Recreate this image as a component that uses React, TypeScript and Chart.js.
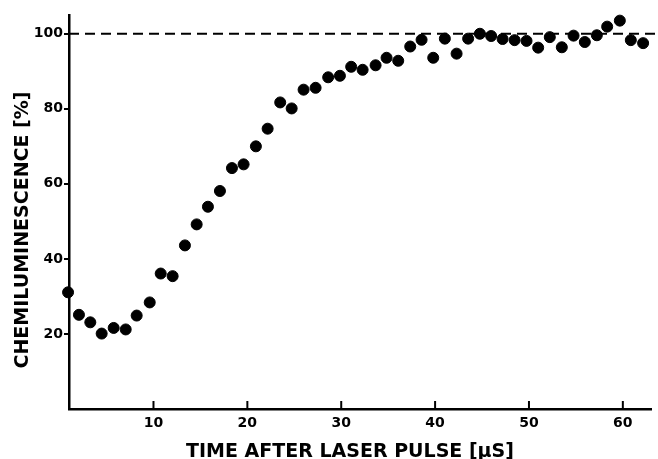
import React, { useEffect, useRef } from "react";
import { Chart, registerables } from "chart.js";

Chart.register(...registerables);

const timeUs = [0.9, 2.06, 3.27, 4.48, 5.76, 7.04, 8.21, 9.6, 10.77, 12.04, 13.35, 14.6, 15.8, 17.08, 18.36, 19.6, 20.91, 22.16, 23.5, 24.72, 25.99, 27.27, 28.61, 29.86, 31.06, 32.28, 33.66, 34.83, 36.07, 37.35, 38.56, 39.8, 41.04, 42.29, 43.52, 44.77, 45.97, 47.19, 48.47, 49.74, 50.98, 52.22, 53.5, 54.75, 55.95, 57.23, 58.33, 59.68, 60.85, 62.16];
const chemiPct = [31.1, 25.1, 23.1, 20.1, 21.6, 21.2, 24.9, 28.4, 36.1, 35.4, 43.6, 49.2, 53.9, 58.1, 64.2, 65.2, 70.0, 74.7, 81.7, 80.1, 85.1, 85.6, 88.4, 88.8, 91.2, 90.4, 91.6, 93.6, 92.8, 96.6, 98.4, 93.6, 98.7, 94.7, 98.7, 100.0, 99.4, 98.6, 98.3, 98.1, 96.3, 99.1, 96.4, 99.5, 97.8, 99.6, 101.9, 103.5, 98.3, 97.5];
const refLineX = [1, 63.8];
const refLineY = 100;
const xTickValues = [10, 20, 30, 40, 50, 60];
const yTickValues = [20, 40, 60, 80, 100];
const xTitle = "TIME AFTER LASER PULSE [\u03bcS]";
const yTitle = "CHEMILUMINESCENCE [%]";

const FONT = "'DejaVu Sans', sans-serif";

export default function App() {
  const ref = useRef<HTMLCanvasElement | null>(null);
  useEffect(() => {
    document.body.style.margin = "0";
    const canvas = ref.current;
    if (!canvas) return;
    const decor = {
      id: "decor",
      afterDraw(chart: any) {
        const ctx = chart.ctx;
        const xs = chart.scales.x;
        const area = chart.chartArea;
        ctx.save();
        ctx.strokeStyle = "#000";
        ctx.lineWidth = 2;
        xTickValues.forEach((v) => {
          const px = xs.getPixelForValue(v);
          ctx.beginPath();
          ctx.moveTo(px, area.bottom);
          ctx.lineTo(px, area.bottom - 8);
          ctx.stroke();
        });
        ctx.fillStyle = "#000";
        ctx.font = `bold 19px ${FONT}`;
        ctx.textAlign = "center";
        ctx.textBaseline = "alphabetic";
        ctx.fillText(xTitle, 350, 457);
        ctx.translate(28, 230);
        ctx.rotate(-Math.PI / 2);
        ctx.font = `bold 19px ${FONT}`;
        ctx.fillText(yTitle, 0, 0);
        ctx.restore();
      },
    };
    const chart = new Chart(canvas, {
      type: "scatter",
      data: {
        datasets: [
          {
            label: "data",
            data: timeUs.map((x, i) => ({ x, y: chemiPct[i] })),
            backgroundColor: "#000",
            borderColor: "#000",
            pointRadius: 5.5,
            pointHoverRadius: 5.5,
            clip: false as any,
            order: 0,
          },
          {
            type: "line" as any,
            label: "ref",
            data: refLineX.map((x) => ({ x, y: refLineY })),
            borderColor: "#000",
            borderWidth: 2,
            borderDash: [10, 6],
            pointRadius: 0,
            showLine: true,
            fill: false,
            clip: false as any,
            order: 1,
          },
        ],
      },
      options: {
        responsive: false,
        animation: false,
        events: [],
        layout: { padding: { left: 0, top: 15, right: 7, bottom: 0 } },
        plugins: { legend: { display: false }, tooltip: { enabled: false } },
        scales: {
          x: {
            type: "linear",
            min: 1,
            max: 63,
            afterBuildTicks: (s: any) => {
              s.ticks = xTickValues.map((v) => ({ value: v }));
            },
            afterFit: (s: any) => {
              s.height = 50;
            },
            grid: { display: false, drawTicks: false },
            border: { display: true, color: "#000", width: 2.5 },
            ticks: {
              color: "#000",
              font: { family: FONT, size: 14, weight: "bold" },
              padding: 6,
              maxRotation: 0,
              autoSkip: false,
            },
          },
          y: {
            type: "linear",
            min: 0,
            max: 105,
            afterBuildTicks: (s: any) => {
              s.ticks = yTickValues.map((v) => ({ value: v }));
            },
            afterFit: (s: any) => {
              s.width = 69;
            },
            grid: { display: true, drawOnChartArea: false, drawTicks: true, tickLength: 5, color: "#000", lineWidth: 2 },
            border: { display: true, color: "#000", width: 2.5 },
            ticks: {
              color: "#000",
              font: { family: FONT, size: 14, weight: "bold" },
              padding: 1,
              autoSkip: false,
            },
          },
        },
      },
      plugins: [decor],
    });
    return () => chart.destroy();
  }, []);
  return (
    <div style={{ width: 658, height: 459, position: "relative" }}>
      <canvas ref={ref} width={658} height={459} />
    </div>
  );
}
